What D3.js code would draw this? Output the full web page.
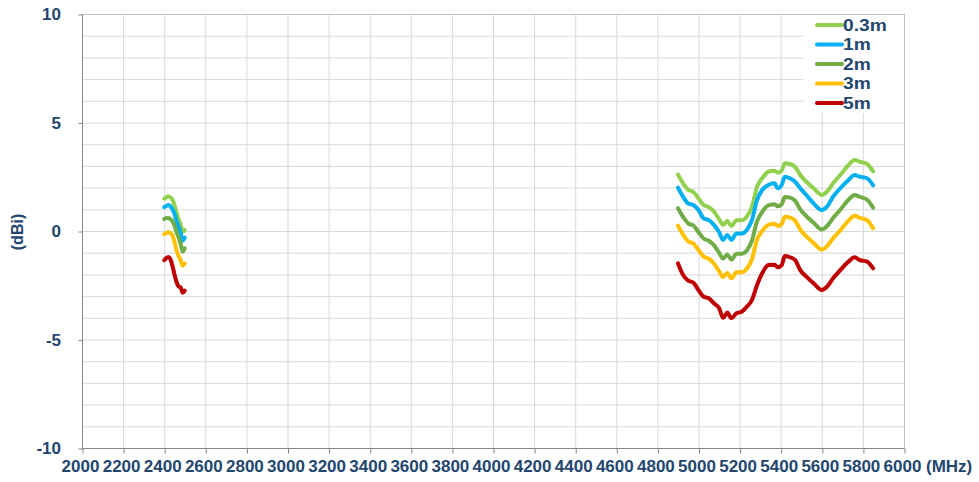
<!DOCTYPE html>
<html>
<head>
<meta charset="utf-8">
<script src="https://cdn.jsdelivr.net/npm/d3@7/dist/d3.min.js"></script>
<style>
  html, body { margin: 0; padding: 0; background: #fff; }
  svg { display: block; }
  text { font-family: "Liberation Sans", Arial, sans-serif; font-weight: bold; }
</style>
</head>
<body>
<svg id="chart" width="979" height="482"></svg>
<script>
// ---- data ----
const seriesNames = ["0.3m", "1m", "2m", "3m", "5m"];
const seriesColors = ["#92D050", "#00B0F0", "#70AD47", "#FFC000", "#C00000"];

const xTicks = [2000, 2200, 2400, 2600, 2800, 3000, 3200, 3400, 3600, 3800, 4000,
                4200, 4400, 4600, 4800, 5000, 5200, 5400, 5600, 5800, 6000];
const yTickLabels = [10, 5, 0, -5, -10];

// 2.4 GHz band
const freq24 = [2400, 2410, 2420, 2430, 2440, 2450, 2460, 2470, 2480, 2490, 2500];
const g24_03m = [1.5, 1.55, 1.6, 1.55, 1.45, 1.2, 0.85, 0.55, 0.3, -0.05, 0.05];
const g24_1m  = [1.1, 1.15, 1.2, 1.15, 1.0, 0.8, 0.45, 0.2, -0.1, -0.45, -0.3];
const g24_2m  = [0.55, 0.6, 0.6, 0.55, 0.45, 0.25, -0.05, -0.3, -0.6, -0.95, -0.8];
const g24_3m  = [-0.15, -0.1, -0.05, -0.1, -0.2, -0.5, -0.9, -1.15, -1.35, -1.6, -1.5];
const g24_5m  = [-1.35, -1.25, -1.2, -1.3, -1.6, -2.0, -2.35, -2.55, -2.6, -2.85, -2.75];

// 5 GHz band
const freq5 = [4900, 4925, 4950, 4975, 5000, 5025, 5050, 5075, 5100, 5120,
               5140, 5160, 5185, 5210, 5235, 5260, 5285, 5310, 5340, 5370,
               5385, 5405, 5420, 5445, 5470, 5495, 5525, 5560, 5600, 5625,
               5655, 5690, 5730, 5760, 5785, 5820, 5850];
const g5_03m = [2.6, 2.2, 1.9, 1.8, 1.5, 1.2, 1.1, 0.9, 0.55, 0.28,
                0.47, 0.23, 0.5, 0.5, 0.66, 1.12, 2.04, 2.43, 2.73, 2.78,
                2.69, 2.78, 3.12, 3.09, 2.96, 2.58, 2.27, 1.97, 1.66, 1.81,
                2.2, 2.58, 3.04, 3.27, 3.19, 3.09, 2.75];
const g5_1m  = [2.0, 1.58, 1.27, 1.2, 0.97, 0.58, 0.5, 0.28, -0.05, -0.41,
                -0.18, -0.41, -0.11, -0.11, 0.05, 0.5, 1.43, 1.89, 2.12, 2.2,
                1.97, 2.12, 2.5, 2.43, 2.27, 1.97, 1.66, 1.27, 0.97, 1.12,
                1.58, 1.97, 2.35, 2.58, 2.5, 2.43, 2.1];
const g5_2m  = [1.05, 0.65, 0.35, 0.25, -0.05, -0.35, -0.45, -0.65, -1.0, -1.27,
                -1.08, -1.32, -1.05, -1.05, -0.9, -0.45, 0.45, 0.88, 1.18, 1.23,
                1.14, 1.23, 1.57, 1.54, 1.4, 1.0, 0.68, 0.38, 0.07, 0.22,
                0.6, 0.98, 1.44, 1.66, 1.57, 1.45, 1.07];
const g5_3m  = [0.25, -0.17, -0.48, -0.58, -0.88, -1.18, -1.28, -1.5, -1.85, -2.12,
                -1.93, -2.18, -1.9, -1.9, -1.74, -1.3, -0.4, 0.0, 0.28, 0.33,
                0.23, 0.32, 0.66, 0.62, 0.48, 0.08, -0.25, -0.55, -0.86, -0.71,
                -0.33, 0.03, 0.48, 0.7, 0.6, 0.5, 0.12];
const g5_5m  = [-1.49, -2.03, -2.29, -2.38, -2.72, -3.03, -3.1, -3.33, -3.55, -4.0,
                -3.76, -4.02, -3.79, -3.72, -3.49, -3.18, -2.49, -1.95, -1.57, -1.55,
                -1.67, -1.57, -1.15, -1.21, -1.34, -1.8, -2.1, -2.41, -2.72, -2.57,
                -2.18, -1.8, -1.41, -1.21, -1.34, -1.41, -1.72];

const band24 = [g24_03m, g24_1m, g24_2m, g24_3m, g24_5m];
const band5  = [g5_03m, g5_1m, g5_2m, g5_3m, g5_5m];

// ---- layout ----
const svg = d3.select("#chart");
const pL = 82, pR = 904, pT = 14, pB = 448;
const textColor = "#23466f";

const x = d3.scaleLinear().domain([2000, 6000]).range([pL, pR]);
const y = d3.scaleLinear().domain([-10, 10]).range([pB, pT]);

// grid
const g = svg.append("g");
g.selectAll("line.hg").data(d3.range(-10, 11, 1)).join("line")
  .attr("x1", pL).attr("x2", pR)
  .attr("y1", d => y(d) + 0.5).attr("y2", d => y(d) + 0.5)
  .attr("stroke", "#d9d9d9").attr("stroke-width", 1);
g.selectAll("line.vg").data(xTicks).join("line")
  .attr("y1", pT).attr("y2", pB)
  .attr("x1", d => x(d) + 0.5).attr("x2", d => x(d) + 0.5)
  .attr("stroke", "#d9d9d9").attr("stroke-width", 1);

// plot border
svg.append("rect").attr("x", pL + 0.5).attr("y", pT + 0.5)
  .attr("width", pR - pL).attr("height", pB - pT)
  .attr("fill", "none").attr("stroke", "#bfbfbf");

// axes
const xAxis = d3.axisBottom(x).tickValues(xTicks).tickSize(5).tickFormat("");
const xa = svg.append("g").attr("transform", `translate(0.5,${pB + 0.5})`).call(xAxis);
xa.select(".domain").attr("stroke", "#868686").attr("d", `M${pL},0H${pR}`);
xa.selectAll(".tick line").attr("stroke", "#868686");

const yAxis = d3.axisLeft(y).tickValues(yTickLabels).tickSize(4).tickFormat("");
const ya = svg.append("g").attr("transform", `translate(${pL + 0.5},0.5)`).call(yAxis);
ya.select(".domain").attr("stroke", "#868686").attr("d", `M0,${pT}V${pB}`);
ya.selectAll(".tick line").attr("stroke", "#868686");

// tick labels
svg.append("g").selectAll("text").data(xTicks).join("text")
  .attr("x", d => x(d) - 1.5).attr("y", 472)
  .attr("text-anchor", "middle").attr("font-size", 17)
  .attr("fill", textColor).text(d => d);
svg.append("text").attr("x", 926).attr("y", 472)
  .attr("font-size", 17).attr("fill", textColor).text("(MHz)");

svg.append("g").selectAll("text").data(yTickLabels).join("text")
  .attr("x", 61).attr("y", d => y(d) + 6)
  .attr("text-anchor", "end").attr("font-size", 17)
  .attr("fill", textColor).text(d => d);
svg.append("text")
  .attr("transform", `translate(23,232) rotate(-90)`)
  .attr("text-anchor", "middle").attr("font-size", 16)
  .attr("fill", textColor).text("(dBi)");

// series lines
const line = d3.line().curve(d3.curveMonotoneX)
  .x(d => x(d[0])).y(d => y(d[1]));
const lines = svg.append("g").attr("fill", "none")
  .attr("stroke-width", 4).attr("stroke-linejoin", "round").attr("stroke-linecap", "round");
seriesNames.forEach((name, i) => {
  lines.append("path")
    .attr("d", line(freq24.map((f, k) => [f, band24[i][k]])))
    .attr("stroke", seriesColors[i]);
  lines.append("path")
    .attr("d", line(freq5.map((f, k) => [f, band5[i][k]])))
    .attr("stroke", seriesColors[i]);
});

// legend
const lg = svg.append("g");
lg.append("rect").attr("x", 803).attr("y", pT + 1).attr("width", pR - 803)
  .attr("height", 98).attr("fill", "#fff");
seriesNames.forEach((name, i) => {
  const cy = 25 + i * 19.5;
  lg.append("line").attr("x1", 817).attr("x2", 842).attr("y1", cy).attr("y2", cy)
    .attr("stroke", seriesColors[i]).attr("stroke-width", 4).attr("stroke-linecap", "round");
  lg.append("text").attr("transform", `translate(843,${cy + 5.5}) scale(1.2,1)`)
    .attr("font-size", 16).attr("fill", textColor).text(name);
});
</script>
</body>
</html>
